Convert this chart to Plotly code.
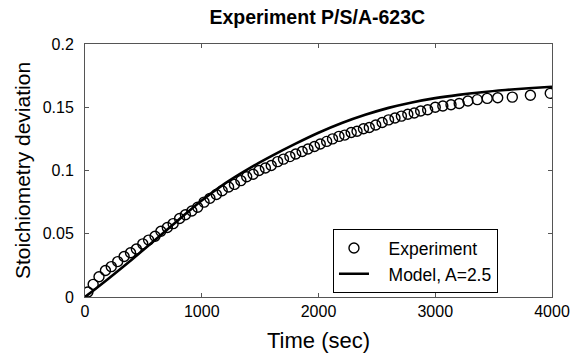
import plotly.graph_objects as go

exp_t = [25, 70, 120, 175, 225, 280, 335, 390, 440, 495, 545, 600, 650, 705, 755, 810,
         860, 915, 965, 1020, 1070, 1125, 1175, 1230, 1280, 1335, 1385, 1440, 1490, 1545,
         1595, 1650, 1700, 1755, 1805, 1860, 1910, 1965, 2015, 2070, 2120, 2175, 2225,
         2280, 2330, 2385, 2435, 2490, 2545, 2600, 2655, 2710, 2765, 2820, 2875, 2935,
         3000, 3065, 3135, 3205, 3280, 3360, 3445, 3535, 3660, 3815, 3985]
exp_y = [0.004, 0.010, 0.016, 0.021, 0.024, 0.028, 0.032, 0.035, 0.038, 0.042, 0.045,
         0.048, 0.052, 0.055, 0.058, 0.062, 0.065, 0.068, 0.071, 0.075, 0.078, 0.081,
         0.084, 0.087, 0.089, 0.092, 0.095, 0.097, 0.100, 0.102, 0.104, 0.107, 0.109,
         0.111, 0.113, 0.115, 0.117, 0.119, 0.121, 0.123, 0.125, 0.127, 0.128, 0.130,
         0.131, 0.133, 0.134, 0.136, 0.138, 0.140, 0.1415, 0.143, 0.1445, 0.1455, 0.147,
         0.148, 0.150, 0.151, 0.152, 0.153, 0.155, 0.156, 0.157, 0.1575, 0.158, 0.1595,
         0.161]

model_t = [0, 200, 400, 600, 800, 1000, 1200, 1400, 1600, 1800, 2000, 2200, 2400, 2600,
           2800, 3000, 3200, 3400, 3600, 3800, 4000]
model_y = [0, 0.0145, 0.0295, 0.0450, 0.0608, 0.0763, 0.0898, 0.1013, 0.1115, 0.1210,
           0.1298, 0.1375, 0.1440, 0.1495, 0.1538, 0.1572, 0.1598, 0.1619, 0.1636,
           0.1650, 0.1662]

x_ticks = [0, 1000, 2000, 3000, 4000]
y_ticks = [0, 0.05, 0.1, 0.15, 0.2]
y_tick_labels = ["0", "0.05", "0.1", "0.15", "0.2"]

NB = "\u00a0\u00a0\u00a0"

fig = go.Figure()
fig.add_trace(go.Scatter(
    x=exp_t, y=exp_y, mode="markers", name=NB + "Experiment",
    marker=dict(symbol="circle-open", size=10, color="black", line=dict(width=1.4)),
))
fig.add_trace(go.Scatter(
    x=model_t, y=model_y, mode="lines", name=NB + "Model, A=2.5",
    line=dict(color="black", width=2.6, shape="spline"),
))

axis_common = dict(showline=True, linecolor="#555", linewidth=1, mirror="ticks",
                   ticks="inside", ticklen=4, tickcolor="#555", showgrid=False,
                   zeroline=False, automargin=False,
                   tickfont=dict(size=16, color="black"))

fig.update_layout(
    width=580, height=353,
    margin=dict(l=85, r=28, t=44, b=56),
    paper_bgcolor="white", plot_bgcolor="white",
    font=dict(family="Liberation Sans, Arial, sans-serif", color="black"),
    title=dict(text="<b>Experiment P/S/A-623C</b>", x=0.547, xanchor="center",
               y=0.952, yanchor="middle", font=dict(size=19.5)),
    xaxis=dict(range=[0, 4000], tickvals=x_ticks, ticktext=[str(v) for v in x_ticks],
               title=dict(text="Time (sec)", font=dict(size=22), standoff=15),
               **axis_common),
    yaxis=dict(range=[0, 0.2], tickvals=y_ticks, ticktext=y_tick_labels,
               ticklabelstandoff=7,
               title=dict(text="Stoichiometry deviation", font=dict(size=21), standoff=6),
               **axis_common),
    legend=dict(x=0.531, y=0.268, xanchor="left", yanchor="top",
                bordercolor="black", borderwidth=1, bgcolor="white",
                font=dict(size=17.5), tracegroupgap=0),
    showlegend=True,
)

fig.write_html("out.html")
